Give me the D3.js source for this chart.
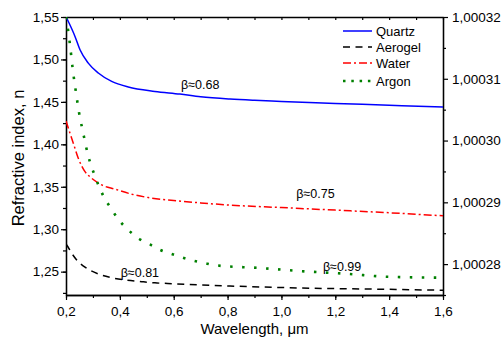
<!DOCTYPE html>
<html>
<head>
<meta charset="utf-8">
<script src="https://cdn.jsdelivr.net/npm/d3@7"></script>
<style>
  body { margin: 0; background: #fff; }
  svg { font-family: Arial, "Liberation Sans", sans-serif; }
</style>
</head>
<body>
<div id="chart"></div>
<script>
// Data (wavelength in µm, refractive index n)
const quartzL = [0.2, 0.2026, 0.2334, 0.252, 0.2827, 0.3199, 0.3696, 0.4312, 0.53, 0.623, 0.7, 0.809, 0.9, 1.0, 1.2, 1.4, 1.6];
const quartzN = [1.5506, 1.5488, 1.5271, 1.5114, 1.4957, 1.484, 1.4741, 1.4675, 1.4623, 1.4592, 1.456, 1.4533, 1.4518, 1.4505, 1.4482, 1.446, 1.4439];

const aerogelL = [0.2, 0.2026, 0.2212, 0.2397, 0.277, 0.32, 0.3696, 0.419, 0.481, 0.5304, 0.598, 0.809, 1.068, 1.39, 1.6];
const aerogelN = [1.2825, 1.2815, 1.2717, 1.2638, 1.254, 1.2473, 1.2429, 1.2402, 1.2382, 1.2368, 1.2358, 1.2331, 1.2308, 1.2292, 1.2281];

const waterL = [0.2, 0.2026, 0.2148, 0.2271, 0.2456, 0.2705, 0.2954, 0.3325, 0.382, 0.4438, 0.5054, 0.6, 0.7, 0.8, 1.0, 1.2, 1.4, 1.6];
const waterN = [1.4275, 1.425, 1.4132, 1.4014, 1.3837, 1.3679, 1.3601, 1.3522, 1.3472, 1.3413, 1.3373, 1.3338, 1.331, 1.3286, 1.3255, 1.3225, 1.3194, 1.3158];

// Argon is read against the right axis
const argonL = [0.2, 0.2048, 0.216, 0.2249, 0.236, 0.2482, 0.2642, 0.2816, 0.3076, 0.3421, 0.367, 0.3941, 0.4312, 0.472, 0.5117, 0.5525, 0.5922, 0.633, 0.6724, 0.712, 0.7555, 0.92, 1.068, 1.254, 1.39, 1.6];
const argonN = [1.00032, 1.00031875, 1.00031507, 1.00031157, 1.0003081, 1.0003046, 1.00030114, 1.00029768, 1.00029423, 1.00029076, 1.00028904, 1.00028726, 1.00028553, 1.00028407, 1.00028318, 1.00028224, 1.00028164, 1.00028104, 1.00028055, 1.00028018, 1.00027981, 1.00027937, 1.00027888, 1.0002784, 1.00027796, 1.0002778];

const xTicks = [0.2, 0.4, 0.6, 0.8, 1.0, 1.2, 1.4, 1.6];
const yLeftTicks = [1.25, 1.30, 1.35, 1.40, 1.45, 1.50, 1.55];
const yRightTicks = [1.00028, 1.00029, 1.00030, 1.00031, 1.00032];

const seriesNames = ["Quartz", "Aerogel", "Water", "Argon"];
const betaLabels = [
  { text: "β≈0.68", l: 0.627, n: 1.4655 },
  { text: "β≈0.75", l: 1.055, n: 1.3365 },
  { text: "β≈0.81", l: 0.403, n: 1.2432 },
  { text: "β≈0.99", l: 1.154, n: 1.2512 }
];

// Layout
const W = 503, H = 339;
const M = { left: 66, right: 443, top: 17, bottom: 295 };

const svg = d3.select("#chart").append("svg")
  .attr("width", W).attr("height", H);

const x = d3.scaleLinear().domain([0.2, 1.6]).range([M.left, M.right]);
const y = d3.scaleLinear().domain([1.2225, 1.55]).range([M.bottom, M.top]);
const y2 = d3.scaleLinear().domain([1.000275, 1.00032]).range([M.bottom, M.top]);

const comma = f => d => d3.format(f)(d).replace(".", ",");

// clip
svg.append("clipPath").attr("id", "clip")
  .append("rect")
  .attr("x", M.left).attr("y", M.top)
  .attr("width", M.right - M.left).attr("height", M.bottom - M.top);

// Axes
function styleAxis(g) {
  g.selectAll("path").attr("stroke", "#000").attr("stroke-width", 1.3);
  g.selectAll("line").attr("stroke", "#000").attr("stroke-width", 1.2);
  g.selectAll("text").attr("fill", "#000").attr("font-size", "13.5px")
    .attr("font-family", "Arial, 'Liberation Sans', sans-serif");
}

const xMinor = d3.range(0.2, 1.61, 0.1);
svg.append("g").attr("transform", `translate(0,${M.bottom})`)
  .call(d3.axisBottom(x).tickValues(xMinor).tickSize(3).tickFormat("").tickSizeOuter(0))
  .call(styleAxis);
svg.append("g").attr("transform", `translate(0,${M.bottom})`)
  .call(d3.axisBottom(x).tickValues(xTicks).tickSize(5).tickPadding(6).tickFormat(comma(".1f")).tickSizeOuter(0))
  .call(styleAxis);

// top border with inward ticks
svg.append("g").attr("transform", `translate(0,${M.top})`)
  .call(d3.axisBottom(x).tickValues(xMinor).tickSize(3).tickFormat("").tickSizeOuter(0))
  .call(styleAxis);

const yMinor = d3.range(1.225, 1.551, 0.025);
svg.append("g").attr("transform", `translate(${M.left},0)`)
  .call(d3.axisLeft(y).tickValues(yMinor).tickSize(3).tickFormat("").tickSizeOuter(0))
  .call(styleAxis);
svg.append("g").attr("transform", `translate(${M.left},0)`)
  .call(d3.axisLeft(y).tickValues(yLeftTicks).tickSize(5).tickPadding(2).tickFormat(comma(".2f")).tickSizeOuter(0))
  .call(styleAxis);

const y2Minor = [1.000275, 1.000285, 1.000295, 1.000305, 1.000315];
svg.append("g").attr("transform", `translate(${M.right},0)`)
  .call(d3.axisRight(y2).tickValues(y2Minor).tickSize(3).tickFormat("").tickSizeOuter(0))
  .call(styleAxis);
svg.append("g").attr("transform", `translate(${M.right},0)`)
  .call(d3.axisRight(y2).tickValues(yRightTicks).tickSize(5).tickPadding(4).tickFormat(comma(".5f")).tickSizeOuter(0))
  .call(styleAxis);

// Axis titles
svg.append("text")
  .attr("transform", `translate(24,${(M.top + M.bottom) / 2 + 2}) rotate(-90)`)
  .attr("text-anchor", "middle")
  .attr("font-size", "16.5px")
  .text("Refractive index, n");

svg.append("text")
  .attr("x", (M.left + M.right) / 2)
  .attr("y", 334)
  .attr("text-anchor", "middle")
  .attr("font-size", "15px")
  .text("Wavelength, μm");

// Curves
const styles = [
  { color: "#0000ff", dash: null, width: 1.5 },
  { color: "#000000", dash: "7,5.5", width: 1.5 },
  { color: "#ff0000", dash: "8,3,2,3", width: 1.5 },
  { color: "#008000", dash: "2.5,9.5", width: 2.6 }
];

const series = [
  { L: quartzL, N: quartzN, sy: y },
  { L: aerogelL, N: aerogelN, sy: y },
  { L: waterL, N: waterN, sy: y },
  { L: argonL, N: argonN, sy: y2 }
];

const plot = svg.append("g").attr("clip-path", "url(#clip)");

series.forEach((s, i) => {
  const pts = s.L.map((l, j) => [l, s.N[j]]);
  const line = d3.line()
    .x(d => x(d[0]))
    .y(d => s.sy(d[1]))
    .curve(d3.curveMonotoneX);
  plot.append("path")
    .datum(pts)
    .attr("d", line)
    .attr("fill", "none")
    .attr("stroke", styles[i].color)
    .attr("stroke-width", styles[i].width)
    .attr("stroke-dasharray", styles[i].dash);
});

// Beta annotations
svg.selectAll(".beta")
  .data(betaLabels)
  .join("text")
  .attr("class", "beta")
  .attr("x", d => x(d.l))
  .attr("y", d => y(d.n))
  .attr("font-size", "12.5px")
  .text(d => d.text);

// Legend
const legendY = [31, 47, 63, 81];
const legend = svg.append("g");
seriesNames.forEach((name, i) => {
  legend.append("line")
    .attr("x1", 343).attr("x2", 372)
    .attr("y1", legendY[i]).attr("y2", legendY[i])
    .attr("stroke", styles[i].color)
    .attr("stroke-width", styles[i].width)
    .attr("stroke-dasharray", i === 3 ? "2.5,5.8" : styles[i].dash);
  legend.append("text")
    .attr("x", 376)
    .attr("y", legendY[i] + 4.5)
    .attr("font-size", "13px")
    .text(name);
});
</script>
</body>
</html>
